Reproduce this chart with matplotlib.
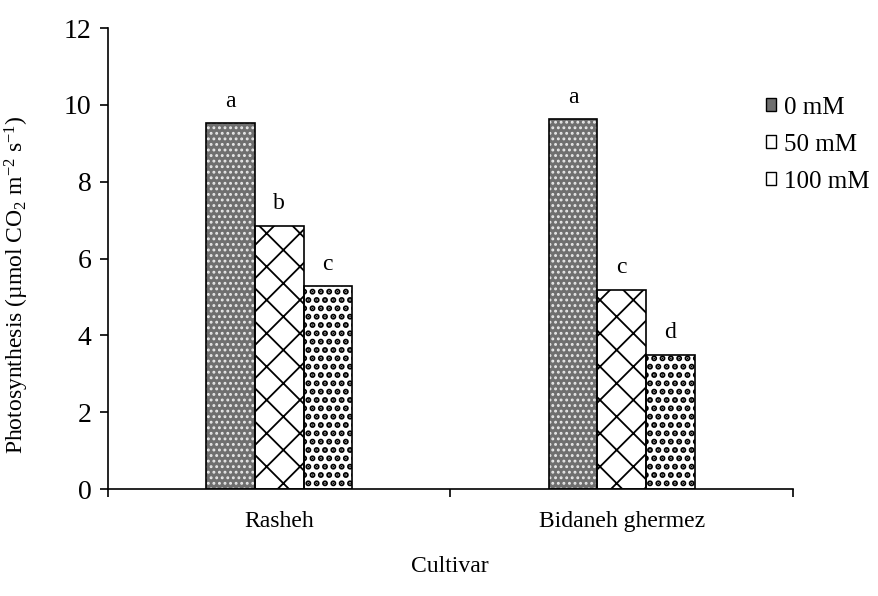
import matplotlib
matplotlib.use("Agg")
import matplotlib.pyplot as plt
import numpy as np
from matplotlib.patches import Patch

plt.rcParams['font.family'] = ['Liberation Serif', 'DejaVu Serif']
plt.rcParams['mathtext.fontset'] = 'custom'
plt.rcParams['mathtext.rm'] = 'Liberation Serif'
plt.rcParams['mathtext.it'] = 'Liberation Serif:italic'

# data
cultivars = ["Rasheh", "Bidaneh ghermez"]
levels = ["0 mM", "50 mM", "100 mM"]
values = {
    "0 mM": [9.52, 9.62],
    "50 mM": [6.85, 5.18],
    "100 mM": [5.28, 3.50],
}
letters = {
    "0 mM": ["a", "a"],
    "50 mM": ["b", "c"],
    "100 mM": ["c", "d"],
}

# look of each series: (fill, hatch, hatch colour, hatch width)
styles = {
    "0 mM": ("#6f6f6f", "...", "#e8e8e8", 1.3),
    "50 mM": ("white", "x", "black", 1.3),
    "100 mM": ("white", "..", "black", 3.0),
}

fig = plt.figure(figsize=(8.79, 5.96), dpi=100)
ax = fig.add_axes([0.1229, 0.1795, 0.902 - 0.1229, 0.953 - 0.1795])

x = np.arange(len(cultivars))
w = 0.142
handles = []
for i, lev in enumerate(levels):
    pos = x + (i - 1) * w
    fc, hatch, hc, hw = styles[lev]
    with plt.rc_context({'hatch.linewidth': hw}):
        ax.bar(pos, values[lev], w, color=fc, edgecolor=hc, hatch=hatch, linewidth=0, zorder=2)
    ax.bar(pos, values[lev], w, facecolor="none", edgecolor="black", linewidth=1.2, zorder=3)
    for p, v, l in zip(pos, values[lev], letters[lev]):
        ax.text(p, v + 0.3, l, ha="center", va="bottom", fontsize=17)
    handles.append(Patch(facecolor=fc, edgecolor="black", linewidth=1.0))

ax.set_xlim(-0.5, 1.5)
ax.set_ylim(0, 12)
ax.set_yticks(np.arange(0, 13, 2))
ax.tick_params(axis="y", labelsize=20, direction="out", length=6, width=1.2, pad=6)
ax.set_xticks(x)
ax.set_xticklabels(cultivars, fontsize=17)
ax.tick_params(axis="x", length=0, pad=16)
ax.set_xticks([-0.5, 0.5, 1.5], minor=True)
ax.tick_params(axis="x", which="minor", length=6, width=1.2, direction="out")

for s in ["top", "right"]:
    ax.spines[s].set_visible(False)
for s in ["left", "bottom"]:
    ax.spines[s].set_linewidth(1.2)

ax.set_ylabel("Photosynthesis (µmol CO$_2$ m$^{-2}$ s$^{-1}$)", fontsize=17)
ax.yaxis.set_label_coords(-0.113, 0.443)
fig.text(0.512, 0.05, "Cultivar", ha="center", va="center", fontsize=17)

fig.legend(handles, levels, loc="upper left", bbox_to_anchor=(0.872, 0.838),
           frameon=False, fontsize=18, handlelength=0.4, handleheight=0.4,
           handletextpad=0.3, labelspacing=0.6, borderaxespad=0, borderpad=0)

fig.savefig("out.png", dpi=100)
